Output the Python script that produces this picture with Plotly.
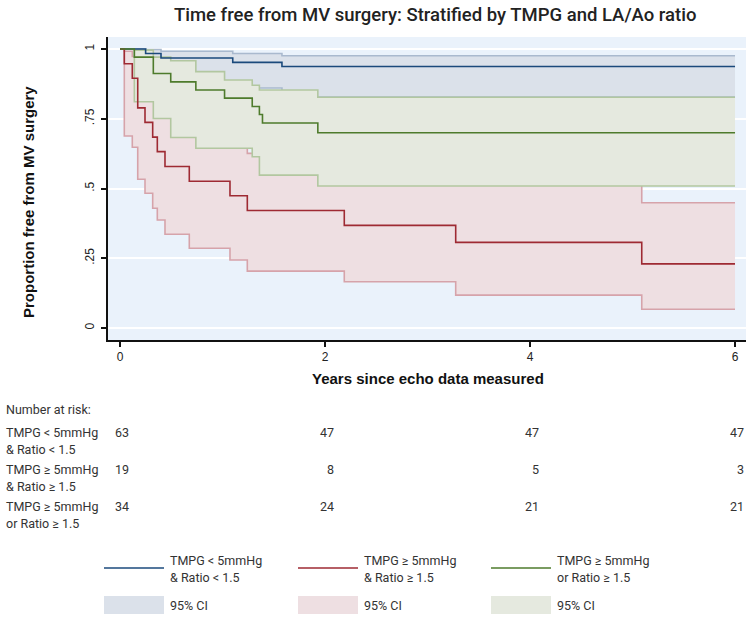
import plotly.graph_objects as go

# ---------------- data ----------------
blue_t  = [0, 0.25, 0.40, 1.10, 1.58, 6.0]
blue_s  = [1, 0.984, 0.968, 0.952, 0.937, 0.937]
blue_lo = [1, 0.893, 0.879, 0.860, 0.828, 0.828]
blue_hi = [1, 0.998, 0.992, 0.984, 0.976, 0.976]

red_t  = [0, 0.042, 0.12, 0.173, 0.244, 0.319, 0.364, 0.439, 0.676, 1.073, 1.242, 2.188, 3.275, 5.09, 6.0]
red_s  = [1, 0.947, 0.895, 0.789, 0.737, 0.684, 0.632, 0.579, 0.526, 0.474, 0.421, 0.368, 0.307, 0.230, 0.230]
red_lo = [1, 0.688, 0.648, 0.533, 0.483, 0.429, 0.387, 0.336, 0.286, 0.244, 0.204, 0.166, 0.118, 0.067, 0.067]
red_hi = [1, 0.992, 0.973, 0.915, 0.881, 0.844, 0.804, 0.763, 0.719, 0.673, 0.626, 0.580, 0.530, 0.449, 0.449]

green_t  = [0, 0.14, 0.325, 0.495, 0.74, 1.02, 1.29, 1.36, 1.39, 1.93, 6.0]
green_s  = [1, 0.971, 0.912, 0.882, 0.853, 0.824, 0.794, 0.765, 0.735, 0.700, 0.700]
green_lo = [1, 0.811, 0.751, 0.683, 0.644, 0.644, 0.614, 0.548, 0.548, 0.509, 0.509]
green_hi = [1, 0.996, 0.971, 0.958, 0.919, 0.889, 0.870, 0.853, 0.853, 0.827, 0.827]

risk_times = [0, 2, 4, 6]
risk_blue  = [63, 47, 47, 47]
risk_red   = [19, 8, 5, 3]
risk_green = [34, 24, 21, 21]

group_names = [["TMPG < 5mmHg", "& Ratio < 1.5"],
               ["TMPG \u2265 5mmHg", "& Ratio \u2265 1.5"],
               ["TMPG \u2265 5mmHg", "or Ratio \u2265 1.5"]]

title = "Time free from MV surgery: Stratified by TMPG and LA/Ao ratio"
ytitle = "Proportion free from MV surgery"
xtitle = "Years since echo data measured"
yticks = [0, 0.25, 0.5, 0.75, 1]
yticktext = ["0", ".25", ".5", ".75", "1"]
xticks = [0, 2, 4, 6]

# ---------------- styles ----------------
line_cols = ["#1B4A7C", "#9E2A33", "#4E7B2C"]
fill_cols = ["#DBE1EA", "#EEDFE2", "#E5E9DF"]
edge_cols = ["#A9B9CE", "#D6A3AA", "#B2C7A0"]
bg = "#EAF2FB"
W, H = 749, 619
L, R, T, B = 108, 746, 37, 340

def px(p):
    return (p - L) / (R - L)

def py(p):
    return (B - p) / (B - T)

fig = go.Figure()

series = [(blue_t, blue_s, blue_lo, blue_hi),
          (red_t, red_s, red_lo, red_hi),
          (green_t, green_s, green_lo, green_hi)]

for i, (t, s, lo, hi) in enumerate(series):
    fig.add_trace(go.Scatter(x=t, y=lo, mode="lines", line=dict(color=edge_cols[i], width=1.6, shape="hv"),
                             showlegend=False, hoverinfo="skip"))
    fig.add_trace(go.Scatter(x=t, y=hi, mode="lines", line=dict(color=edge_cols[i], width=1.6, shape="hv"),
                             fill="tonexty", fillcolor=fill_cols[i], showlegend=False, hoverinfo="skip"))

for i, (t, s, lo, hi) in enumerate(series):
    fig.add_trace(go.Scatter(x=t, y=s, mode="lines", line=dict(color=line_cols[i], width=1.6, shape="hv"),
                             showlegend=False))

annotations = []
annotations.append(dict(text=title, x=px(435), y=py(15), xref="paper", yref="paper", showarrow=False,
                        font=dict(family="Roboto", size=18.5, color="#222", weight=500), xanchor="center", yanchor="middle"))
annotations.append(dict(text=ytitle, x=px(28), y=py(202), xref="paper", yref="paper", showarrow=False, textangle=-90,
                        font=dict(family="Liberation Sans", size=15, color="#111", weight="bold"),
                        xanchor="center", yanchor="middle"))
annotations.append(dict(text=xtitle, x=px(428), y=py(378), xref="paper", yref="paper", showarrow=False,
                        font=dict(family="Liberation Sans", size=15, color="#111", weight="bold"),
                        xanchor="center", yanchor="middle"))

tfont = dict(family="Roboto", size=12.5, color="#333")
annotations.append(dict(text="Number at risk:", x=px(4), y=py(409), xref="paper", yref="paper", showarrow=False,
                        font=tfont, xanchor="left", yanchor="middle"))
row_y = [432, 469, 506]
for gi, (names, risks) in enumerate(zip(group_names, [risk_blue, risk_red, risk_green])):
    annotations.append(dict(text=names[0], x=px(4), y=py(row_y[gi]), xref="paper", yref="paper", showarrow=False,
                            font=tfont, xanchor="left", yanchor="middle"))
    annotations.append(dict(text=names[1], x=px(4), y=py(row_y[gi] + 17), xref="paper", yref="paper", showarrow=False,
                            font=tfont, xanchor="left", yanchor="middle"))
    for tt, n in zip(risk_times, risks):
        annotations.append(dict(text=str(n), x=tt, y=py(row_y[gi]), xref="x", yref="paper", showarrow=False,
                                font=tfont, xanchor="right", yanchor="middle", xshift=11))

# legend (manual, Stata style)
shapes = []
leg_x = [104, 298, 491]
for i in range(3):
    x0 = leg_x[i]
    shapes.append(dict(type="line", xref="paper", yref="paper", x0=px(x0), x1=px(x0 + 60), y0=py(568), y1=py(568),
                       line=dict(color=line_cols[i], width=1.6)))
    shapes.append(dict(type="rect", xref="paper", yref="paper", x0=px(x0), x1=px(x0 + 60), y0=py(596), y1=py(614),
                       fillcolor=fill_cols[i], line=dict(width=0)))
    annotations.append(dict(text=group_names[i][0], x=px(x0 + 64), y=py(560), xref="paper", yref="paper",
                            showarrow=False, font=tfont, xanchor="left", yanchor="middle"))
    annotations.append(dict(text=group_names[i][1], x=px(x0 + 64), y=py(577), xref="paper", yref="paper",
                            showarrow=False, font=tfont, xanchor="left", yanchor="middle"))
    annotations.append(dict(text="95% CI", x=px(x0 + 64), y=py(605), xref="paper", yref="paper",
                            showarrow=False, font=tfont, xanchor="left", yanchor="middle"))

fig.update_layout(
    width=W, height=H,
    margin=dict(l=L, r=W - R, t=T, b=H - B),
    paper_bgcolor="white", plot_bgcolor=bg,
    showlegend=False,
    annotations=annotations, shapes=shapes,
    font=dict(family="Liberation Sans", size=12, color="#222"),
)
fig.update_xaxes(range=[-0.117, 6.107], tickvals=xticks, ticks="outside", ticklen=5, tickwidth=1.5,
                 tickcolor="#111", showline=True, linecolor="#111", linewidth=2, showgrid=False, zeroline=False,
                 ticklabelstandoff=0,
                 tickfont=dict(family="Liberation Sans", size=12, color="#222"))
fig.update_yaxes(range=[-0.043, 1.043], tickvals=yticks, ticktext=yticktext, tickangle=-90, ticks="outside",
                 ticklen=5, tickwidth=1.5, tickcolor="#111", showline=True, linecolor="#111", linewidth=2,
                 showgrid=True, gridcolor="white", gridwidth=1.5, zeroline=False,
                 ticklabelstandoff=2,
                 tickfont=dict(family="Liberation Sans", size=12, color="#222"))

fig.write_html("out.html")
